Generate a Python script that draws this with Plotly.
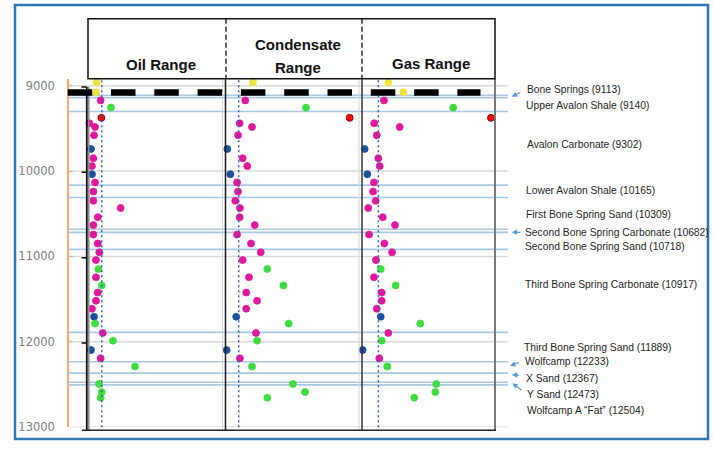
import plotly.graph_objects as go

# ---------------- data ----------------
sample_depth = [8962, 9077, 9173, 9257, 9377, 9441, 9484, 9580, 9741, 9850,
                9942, 10037, 10133, 10241, 10349, 10433, 10541, 10633, 10744, 10848,
                10952, 11043, 11148, 11244, 11340, 11423, 11519, 11613, 11706, 11786,
                11896, 11986, 12097, 12193, 12289, 12493, 12588, 12654]
sample_type = ['Y', 'Y', 'M', 'G', 'R', 'M', 'M', 'M', 'B', 'M',
               'M', 'B', 'M', 'M', 'M', 'M', 'M', 'M', 'M', 'M',
               'M', 'M', 'G', 'M', 'G', 'M', 'M', 'M', 'B', 'G',
               'M', 'G', 'B', 'M', 'G', 'G', 'G', 'G']
oil_x = [7.0, 6.5, 9.9, 17.4, 10.4, 1.7, 5.8, 5.1, 2.9, 4.6,
         3.6, 3.6, 5.8, 4.6, 4.6, 24.4, 7.8, 4.6, 4.6, 7.8,
         8.9, 6.5, 8.2, 6.5, 10.7, 7.8, 6.5, 3.6, 5.1, 5.8,
         11.4, 18.8, 2.9, 9.9, 34.8, 8.7, 10.7, 9.9]
condensate_x = [20.4, None, 14.8, 59.1, 91.0, 10.7, 19.7, 9.5, 1.7, 12.9,
                16.3, 3.9, 8.8, 9.5, 7.5, 10.9, 10.7, 21.7, 8.8, 19.0,
                26.1, 12.9, 30.9, 17.5, 42.6, 15.5, 23.4, 15.5, 8.2, 46.5,
                22.6, 23.4, 1.2, 10.9, 19.7, 49.6, 58.4, 30.9]
gas_x = [19.8, 31.1, 16.5, 68.6, 97.0, 9.2, 28.3, 11.1, 2.0, 12.3,
         13.3, 4.0, 9.0, 8.3, 10.3, 4.7, 15.6, 24.8, 5.3, 16.8,
         22.6, 10.5, 14.1, 9.0, 25.3, 14.8, 14.8, 11.1, 14.1, 43.8,
         19.8, 14.8, 0.5, 13.0, 19.0, 55.9, 55.1, 39.3]
cutoff_x = [10.7, 10.0, 12.3]  # oil, condensate, gas
panel_titles = ["Oil Range", "Condensate", "Range", "Gas Range"]
formation_names = ["Bone Springs", "Upper Avalon Shale", "Avalon Carbonate",
                   "Lower Avalon Shale", "First Bone Spring Sand",
                   "Second Bone Spring Carbonate", "Second Bone Spring Sand",
                   "Third Bone Spring Carbonate", "Third Bone Spring Sand",
                   "Wolfcamp", "X Sand", "Y Sand", "Wolfcamp A \u201cFat\u201d"]
formation_tops = [9113, 9140, 9302, 10165, 10309, 10682, 10718, 10917,
                  11889, 12233, 12367, 12473, 12504]
depth_ticks = [9000, 10000, 11000, 12000, 13000]
marker_bar_depth = 9080

# ---------------- layout helpers ----------------
W, H = 714, 449
def PX(x):
    return x / W
def PY(y):
    return 1 - y / H

TYPE_COLOR = {'Y': '#ece23c', 'M': '#e0189b', 'G': '#3fdc3f',
              'B': '#1c4f9c', 'R': '#ff0a0a'}
TYPE_LINE = {'Y': '#ece23c', 'M': '#e0189b', 'G': '#3fdc3f',
             'B': '#1c4f9c', 'R': '#600000'}
SANS = "Liberation Sans, Arial, sans-serif"

fig = go.Figure()
for xs, xa in [(oil_x, 'x'), (condensate_x, 'x2'), (gas_x, 'x3')]:
    fig.add_trace(go.Scatter(
        x=xs, y=sample_depth, xaxis=xa, yaxis='y', mode='markers',
        cliponaxis=False, showlegend=False, hoverinfo='skip',
        marker=dict(size=7, color=[TYPE_COLOR[t] for t in sample_type],
                    line=dict(width=0.8, color=[TYPE_LINE[t] for t in sample_type]))))

shapes = []
# gridlines
for d in depth_ticks:
    shapes.append(dict(type='line', xref='paper', yref='y', x0=PX(68), x1=PX(508),
                       y0=d, y1=d, line=dict(color='#dadada', width=1.5), layer='below'))
# formation tops
for d in formation_tops:
    shapes.append(dict(type='line', xref='paper', yref='y', x0=PX(68), x1=PX(508),
                       y0=d, y1=d, line=dict(color='#a9c8e6', width=1.6), layer='below'))
# dotted cutoffs
for xa, c in zip(['x', 'x2', 'x3'], cutoff_x):
    shapes.append(dict(type='line', xref=xa, yref='y domain', x0=c, x1=c, y0=0, y1=1,
                       line=dict(color='#2f5fb3', width=1.5, dash='2px,3px')))
# light gray helper verticals
for x in [222.5, 359]:
    shapes.append(dict(type='line', xref='paper', yref='paper', x0=PX(x), x1=PX(x),
                       y0=PY(80), y1=PY(437), line=dict(color='#d4d4d4', width=1)))
# panel verticals
shapes.append(dict(type='line', xref='paper', yref='paper', x0=PX(88.8), x1=PX(88.8),
                   y0=PY(88), y1=PY(437), line=dict(color='#8a8a8a', width=1.5)))
shapes.append(dict(type='line', xref='paper', yref='paper', x0=PX(86.8), x1=PX(86.8),
                   y0=PY(88), y1=PY(437), line=dict(color='#111111', width=1.8)))
shapes.append(dict(type='line', xref='paper', yref='paper', x0=PX(225.5), x1=PX(225.5),
                   y0=PY(80), y1=PY(437), line=dict(color='#1a1a1a', width=1.5)))
shapes.append(dict(type='line', xref='paper', yref='paper', x0=PX(362), x1=PX(362),
                   y0=PY(80), y1=PY(437), line=dict(color='#333333', width=1.5)))
shapes.append(dict(type='line', xref='paper', yref='paper', x0=PX(495), x1=PX(495),
                   y0=PY(80), y1=PY(437), line=dict(color='#7a7a7a', width=2)))
# bottom line
shapes.append(dict(type='line', xref='paper', yref='paper', x0=PX(82), x1=PX(496),
                   y0=PY(437), y1=PY(437), line=dict(color='#222222', width=1.5)))
# black ticks on inner axis
for d in depth_ticks[:-1]:
    shapes.append(dict(type='line', xref='paper', yref='y', x0=PX(81.5), x1=PX(86.5),
                       y0=d + 15, y1=d + 15, line=dict(color='#111111', width=1.5)))
# header box
shapes.append(dict(type='rect', xref='paper', yref='paper', x0=PX(88), x1=PX(495),
                   y0=PY(80), y1=PY(19), line=dict(color='#111111', width=1.5)))
for x in [226, 362]:
    shapes.append(dict(type='line', xref='paper', yref='paper', x0=PX(x), x1=PX(x),
                       y0=PY(19), y1=PY(80), line=dict(color='#111111', width=1.3, dash='5px,3px')))
# black dashed bar
shapes.append(dict(type='line', xref='paper', yref='y', x0=PX(67.7), x1=PX(480.5),
                   y0=marker_bar_depth, y1=marker_bar_depth,
                   line=dict(color='#000000', width=6.5, dash='24.5px,18.8px')))
# outer frame
shapes.append(dict(type='rect', xref='paper', yref='paper', x0=PX(15), x1=PX(708),
                   y0=PY(446), y1=PY(5), line=dict(color='#2e75b6', width=2.5)))

annotations = []
title_pos = [(161, 65.5), (298, 45.5), (298, 68.5), (431, 65)]
for t, (x, y) in zip(panel_titles, title_pos):
    annotations.append(dict(text=f"<b>{t}</b>", xref='paper', yref='paper', x=PX(x), y=PY(y),
                            xanchor='center', yanchor='middle', showarrow=False,
                            font=dict(family=SANS, size=15, color='#111111')))
label_px = [(525, 90.7), (524.3, 107.3), (525, 146.7), (524.3, 193.3), (524.3, 218.3),
            (523.3, 236), (523.3, 250.7), (523.3, 289.3), (521.7, 353.3), (522.7, 367.3),
            (524.3, 384.3), (525, 400.7), (525, 416.7)]
for name, top, (x, y) in zip(formation_names, formation_tops, label_px):
    annotations.append(dict(text=f"{name} ({top})", xref='paper', yref='paper',
                            x=PX(x), y=PY(y), xanchor='left', yanchor='middle',
                            showarrow=False,
                            font=dict(family=SANS, size=10.3, color='#1e1e1e')))
arrows = [(511.7, 98.3, 10, -5), (511.7, 236, 10, 0), (510, 371.7, 10, -4),
          (511.7, 381, 9, 0), (512.3, 389.3, 11, 8)]
for x, y, ax, ay in arrows:
    annotations.append(dict(text='', xref='paper', yref='paper', x=PX(x), y=PY(y),
                            ax=ax, ay=ay, showarrow=True, arrowhead=2, arrowsize=0.9,
                            arrowwidth=1.2, arrowcolor='#5b9bd5', standoff=0))

fig.update_layout(
    width=W, height=H, margin=dict(l=0, r=0, t=0, b=0),
    paper_bgcolor='white', plot_bgcolor='rgba(0,0,0,0)',
    shapes=shapes, annotations=annotations, showlegend=False,
    xaxis=dict(domain=[PX(87), PX(225)], range=[0, 100], visible=False, anchor='y'),
    xaxis2=dict(domain=[PX(225), PX(362)], range=[0, 100], visible=False, anchor='y'),
    xaxis3=dict(domain=[PX(362), PX(495)], range=[0, 100], visible=False, anchor='y'),
    yaxis=dict(domain=[PY(434), PY(80)], range=[13000, 9000 - 7 / 0.08675],
               anchor='free', position=PX(68), side='left',
               tickvals=depth_ticks, tickformat='d', ticks='inside', ticklen=4, tickwidth=1.2,
               tickcolor='#f0a878', showline=True, linecolor='#f0a878', linewidth=1.5,
               showgrid=False, zeroline=False, ticklabelstandoff=10,
               tickfont=dict(family='DejaVu Sans', size=11.5, color='#808080')),
)

fig.write_html("out.html", config={'displayModeBar': False},
               post_script="document.body.style.margin='0px';")
